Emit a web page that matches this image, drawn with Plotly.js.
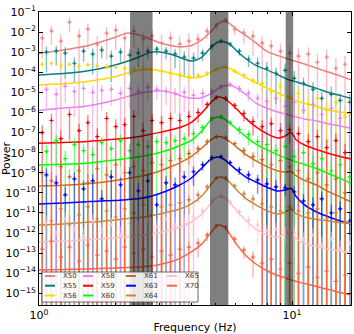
<!DOCTYPE html>
<html>
<head>
<meta charset="utf-8">
<script src="https://cdn.plot.ly/plotly-3.0.1.min.js"></script>
<style>
html, body { margin: 0; padding: 0; background: #fff; }
#chart { width: 354px; height: 334px; }
</style>
</head>
<body>
<div id="chart"></div>
<script>
// frequency bins (Hz) of the data points, two binnings
const freqA = [1.03, 1.12, 1.22, 1.32, 1.44, 1.56, 1.70, 1.85, 2.01, 2.18, 2.37, 2.58, 2.80, 3.05, 3.31, 3.60, 3.91, 4.25, 4.62, 5.02, 5.46, 5.93, 6.45, 7.01, 7.62, 8.28, 9.00, 9.78, 10.6, 11.6, 12.6, 13.7, 14.9, 16.2];
const freqB = [1.07, 1.17, 1.27, 1.38, 1.50, 1.63, 1.77, 1.93, 2.10, 2.28, 2.47, 2.69, 2.92, 3.18, 3.45, 3.75, 4.08, 4.43, 4.82, 5.24, 5.69, 6.19, 6.73, 7.31, 7.95, 8.64, 9.39, 10.2, 11.1, 12.1, 13.1, 14.3, 15.5, 16.9];
// frequencies where the model curves were read
const modelFreq = [1.0, 1.25, 1.5, 1.75, 2.0, 2.25, 2.5, 2.75, 3.0, 3.3, 3.6, 4.0, 4.4, 4.8, 5.1, 5.4, 5.7, 6.1, 6.6, 7.2, 8.0, 8.8, 9.4, 9.9, 10.4, 11.2, 12.5, 14.0, 15.5, 17.1];

// all powers as log10 values; errors as fraction of the power
const x50Pow = [-2.30,-1.95,-2.45,-1.50,-2.20,-1.85,-2.60,-2.05,-1.90,-2.30,-1.95,-2.35,-2.20,-2.55,-2.30,-2.60,-2.45,-2.35,-1.95,-1.65,-1.40,-1.85,-2.05,-2.20,-2.55,-2.70,-2.95,-3.05,-3.20,-3.10,-3.50,-3.25,-3.80,-3.60];
const x50Err = [0.9,0.8,1.2,0.7,1.3,0.9,1.5,0.95,0.9,1.2,0.85,1.4,1.1,1.6,1.2,1.5,1.3,0.9,0.6,0.4,0.3,0.5,0.7,0.9,1.2,1.1,1.4,1.3,1.5,1.2,1.8,1.3,2,1.6];
const x50Model = [-3.06,-2.89,-2.72,-2.49,-2.26,-2.04,-2.15,-2.34,-2.53,-2.67,-2.74,-2.67,-2.39,-1.95,-1.60,-1.45,-1.60,-1.90,-2.19,-2.54,-2.97,-3.17,-3.29,-3.39,-3.46,-3.59,-3.79,-4.00,-4.18,-4.38];

const x55Pow = [-3.00,-2.95,-3.05,-3.55,-2.95,-3.10,-2.90,-3.20,-3.00,-3.15,-3.05,-2.95,-2.85,-2.95,-3.10,-3.25,-3.30,-3.05,-2.70,-2.45,-2.60,-2.95,-3.35,-3.55,-3.80,-4.05,-3.90,-4.30,-4.55,-4.85,-5.30,-5.10,-5.40,-5.50];
const x55Err = [0.9,0.8,0.95,0.9,0.7,0.9,0.6,0.95,0.7,0.9,0.8,0.6,0.5,0.6,0.8,0.9,0.9,0.6,0.3,0.2,0.25,0.4,0.6,0.9,1.1,0.97,1.2,1.3,0.97,1.3,1.1,1.5,1.2,1.6];
const x55Model = [-4.13,-4.06,-3.96,-3.81,-3.64,-3.44,-3.22,-3.01,-2.99,-3.09,-3.26,-3.44,-3.24,-2.74,-2.49,-2.48,-2.62,-2.99,-3.34,-3.66,-3.89,-4.13,-4.30,-4.41,-4.48,-4.61,-4.80,-5.01,-5.15,-5.31];

const x56Pow = [-3.60,-3.55,-3.65,-3.60,-3.70,-3.62,-3.68,-3.72,-3.75,-3.80,-3.85,-3.82,-3.88,-3.95,-4.05,-4.10,-4.20,-4.15,-4.05,-3.85,-3.72,-3.95,-4.15,-4.40,-4.55,-4.95,-4.70,-5.20,-5.05,-5.60,-5.30,-5.90,-5.50,-6.20];
const x56Err = [0.3,0.25,0.3,0.25,0.3,0.25,0.3,0.3,0.25,0.3,0.25,0.3,0.25,0.3,0.35,0.4,0.4,0.3,0.25,0.15,0.15,0.2,0.3,0.4,0.6,0.9,0.8,1.2,0.95,1.4,1.1,1.6,1.2,1.8];
const x56Model = [-4.63,-4.57,-4.48,-4.36,-4.22,-4.03,-3.89,-3.85,-3.92,-4.03,-4.16,-4.27,-4.21,-3.99,-3.81,-3.75,-3.82,-4.03,-4.28,-4.53,-4.80,-5.03,-5.20,-5.30,-5.41,-5.54,-5.70,-5.88,-5.98,-6.07];

const x58Pow = [-4.85,-5.10,-4.70,-4.95,-4.80,-5.00,-4.90,-4.85,-5.05,-4.80,-4.95,-4.75,-4.85,-4.95,-5.05,-5.00,-5.15,-5.05,-4.95,-4.70,-4.60,-4.80,-5.05,-5.30,-5.45,-5.30,-5.70,-5.50,-5.90,-5.60,-6.10,-5.80,-6.30,-6.00];
const x58Err = [0.9,1.1,0.85,0.95,0.9,1.2,0.9,0.85,1.1,0.9,0.95,0.8,0.7,0.8,0.9,0.9,1.1,0.8,0.5,0.3,0.3,0.4,0.6,0.9,1.1,1.2,1.3,1.4,1.3,1.6,1.4,1.8,1.5,2];
const x58Model = [-5.90,-5.78,-5.70,-5.55,-5.38,-5.20,-5.04,-4.96,-4.92,-5.00,-5.15,-5.29,-5.25,-5.05,-4.81,-4.68,-4.65,-4.81,-5.13,-5.53,-5.80,-5.98,-6.07,-6.15,-6.22,-6.32,-6.42,-6.57,-6.67,-6.79];

const x59Pow = [-7.00,-6.40,-7.30,-6.10,-6.90,-6.50,-7.20,-6.30,-6.70,-6.60,-6.20,-6.90,-6.40,-6.50,-6.30,-6.40,-6.20,-6.00,-5.60,-5.25,-5.30,-5.65,-6.05,-6.45,-6.70,-6.55,-6.90,-6.85,-7.05,-7.45,-7.20,-7.75,-7.40,-8.00];
const x59Err = [1.3,1.1,1.5,0.95,1.2,1.4,1.6,1.1,1.3,1.2,1.1,1.5,1.2,1.1,1.0,1.3,0.9,0.7,0.4,0.25,0.25,0.35,0.6,0.8,1.1,1.0,1.3,0.8,1.2,1.4,1.2,1.6,1.3,1.8];
const x59Model = [-7.53,-7.50,-7.46,-7.39,-7.33,-7.27,-7.20,-7.09,-6.99,-6.87,-6.75,-6.49,-6.02,-5.48,-5.23,-5.30,-5.53,-5.88,-6.32,-6.72,-7.07,-7.27,-7.17,-7.00,-7.37,-7.62,-7.84,-8.04,-8.19,-8.31];

const x60Pow = [-7.95,-7.40,-8.30,-7.60,-7.90,-8.10,-7.50,-7.80,-7.40,-7.90,-7.60,-7.70,-7.45,-7.50,-7.40,-7.30,-7.05,-6.75,-6.30,-6.20,-6.50,-6.85,-7.10,-7.45,-7.60,-7.90,-7.70,-8.20,-8.00,-8.55,-8.30,-8.90,-8.60,-9.20];
const x60Err = [1.2,0.95,1.5,1.1,1.3,1.4,1.0,1.2,0.95,1.3,1.1,1.2,1.0,1.1,0.9,0.9,0.7,0.5,0.3,0.2,0.3,0.45,0.7,0.9,1.1,1.2,1.0,1.4,1.2,1.5,1.3,1.7,1.4,2];
const x60Model = [-8.61,-8.58,-8.54,-8.45,-8.36,-8.28,-8.20,-8.11,-7.99,-7.84,-7.64,-7.39,-6.92,-6.35,-6.22,-6.32,-6.55,-6.87,-7.22,-7.57,-7.87,-8.11,-8.26,-8.36,-8.46,-8.59,-8.79,-9.06,-9.28,-9.53];

const x61Pow = [-9.00,-9.40,-8.70,-9.20,-8.90,-9.50,-8.80,-9.10,-8.60,-9.00,-8.70,-8.90,-8.50,-8.60,-8.40,-8.30,-8.05,-7.80,-7.45,-7.20,-7.25,-7.55,-7.90,-8.20,-8.35,-8.60,-8.40,-8.70,-8.90,-9.30,-9.00,-9.60,-9.30,-10.00];
const x61Err = [1.3,1.6,1.1,1.4,1.2,1.8,1.2,1.5,1.0,1.3,1.1,1.2,0.95,1.0,0.9,0.8,0.7,0.5,0.35,0.2,0.2,0.3,0.5,0.7,0.9,1.1,0.9,1.0,1.2,1.5,1.2,1.7,1.4,2];
const x61Model = [-9.66,-9.62,-9.56,-9.48,-9.38,-9.28,-9.18,-9.06,-8.91,-8.71,-8.51,-8.19,-7.77,-7.34,-7.20,-7.27,-7.47,-7.77,-8.11,-8.41,-8.71,-8.91,-8.96,-8.94,-9.16,-9.38,-9.61,-9.95,-10.20,-10.45];

const x63Pow = [-9.10,-9.50,-10.10,-9.30,-9.80,-9.40,-10.30,-9.20,-9.60,-9.00,-9.90,-9.40,-10.60,-9.50,-9.60,-9.20,-8.95,-8.60,-8.25,-8.20,-8.50,-8.85,-9.10,-9.35,-9.55,-9.70,-9.75,-9.95,-10.40,-10.60,-10.30,-11.00,-10.80,-11.40];
const x63Err = [1.1,1.3,1.6,1.2,1.5,1.2,1.8,1.1,1.4,0.95,1.5,1.2,2,1.2,1.3,1.0,0.8,0.5,0.3,0.2,0.3,0.45,0.6,0.8,1.0,1.1,0.6,0.9,1.2,1.4,1.2,1.6,1.4,1.8];
const x63Model = [-10.55,-10.50,-10.45,-10.40,-10.38,-10.33,-10.28,-10.18,-10.03,-9.83,-9.61,-9.26,-8.76,-8.31,-8.21,-8.34,-8.59,-8.91,-9.23,-9.46,-9.73,-9.91,-9.86,-9.77,-10.20,-10.60,-10.95,-11.20,-11.40,-11.55];

const x64Pow = [-11.00,-11.40,-10.80,-11.60,-11.10,-10.70,-11.30,-10.90,-11.20,-10.80,-11.00,-10.60,-11.10,-10.70,-10.60,-10.50,-10.35,-10.10,-9.70,-9.25,-9.25,-9.65,-10.05,-10.30,-10.55,-10.70,-10.90,-10.70,-10.90,-11.00,-10.80,-11.30,-11.00,-11.40];
const x64Err = [1.4,1.7,1.2,2,1.5,1.2,1.6,1.3,1.5,1.2,1.4,1.1,1.5,1.2,1.1,1.0,0.8,0.6,0.4,0.2,0.2,0.3,0.5,0.7,0.9,1.1,1.3,0.9,1.2,1.4,1.2,1.6,1.3,1.8];
const x64Model = [-11.60,-11.55,-11.47,-11.42,-11.35,-11.27,-11.22,-11.15,-11.05,-10.93,-10.80,-10.55,-10.15,-9.56,-9.23,-9.26,-9.51,-9.91,-10.30,-10.60,-10.90,-11.05,-10.95,-10.80,-11.05,-11.20,-11.32,-11.40,-11.47,-11.52];

const x65Pow = [-11.50,-12.00,-11.30,-11.80,-12.20,-11.40,-11.90,-11.60,-12.10,-11.50,-11.80,-11.40,-11.70,-11.30,-11.60,-11.40,-11.20,-10.90,-10.40,-10.15,-10.45,-10.95,-11.35,-11.60,-11.90,-11.80,-11.90,-12.00,-12.30,-12.10,-12.60,-12.30,-12.80,-12.50];
const x65Err = [1.3,1.6,1.2,1.5,1.8,1.2,1.5,1.3,1.7,1.2,1.4,1.1,1.4,1.1,1.3,1.1,0.9,0.6,0.35,0.2,0.3,0.45,0.7,0.9,1.1,1.0,0.8,1.1,1.3,1.2,1.6,1.3,1.8,1.5];
const x65Model = [-12.44,-12.39,-12.34,-12.29,-12.24,-12.19,-12.12,-12.04,-11.97,-11.85,-11.70,-11.45,-11.05,-10.50,-10.20,-10.23,-10.50,-10.95,-11.40,-11.80,-12.09,-12.19,-12.02,-11.95,-12.29,-12.52,-12.67,-12.79,-12.89,-12.99];

const x70Pow = [-12.80,-12.40,-13.20,-12.70,-13.40,-12.60,-13.10,-12.90,-13.30,-12.70,-13.00,-12.80,-13.20,-12.90,-13.10,-12.80,-12.70,-12.50,-12.10,-11.65,-11.70,-12.30,-12.85,-13.20,-13.50,-13.30,-13.80,-13.50,-14.00,-13.70,-14.20,-13.90,-14.40,-14.10];
const x70Err = [1.5,1.2,1.8,1.4,2,1.3,1.7,1.5,1.8,1.3,1.5,1.4,1.7,1.4,1.5,1.2,1.0,0.8,0.5,0.25,0.25,0.4,0.6,0.9,1.1,1.0,1.4,1.1,1.5,1.2,1.7,1.4,1.8,1.5];
const x70Model = [-13.84,-13.81,-13.79,-13.76,-13.74,-13.71,-13.69,-13.64,-13.56,-13.44,-13.26,-12.94,-12.54,-11.95,-11.60,-11.70,-12.09,-12.64,-13.14,-13.54,-13.89,-14.11,-14.23,-14.33,-14.41,-14.51,-14.66,-14.81,-14.96,-15.08];

// excluded frequency ranges (Hz)
const bands = [[2.29, 2.81], [4.74, 5.60], [9.44, 10.1]];

const yExponents = [-1, -2, -3, -4, -5, -6, -7, -8, -9, -10, -11, -12, -13, -14, -15];
const xExponents = [0, 1];
const xRange = [0, Math.log10(17.1)];

const series = [
  { name: 'X50', color: '#F08080', f: freqA, p: x50Pow, e: x50Err, m: x50Model },
  { name: 'X55', color: '#008080', f: freqB, p: x55Pow, e: x55Err, m: x55Model },
  { name: 'X56', color: '#FFD700', f: freqA, p: x56Pow, e: x56Err, m: x56Model },
  { name: 'X58', color: '#EE82EE', f: freqB, p: x58Pow, e: x58Err, m: x58Model },
  { name: 'X59', color: '#FF0000', f: freqA, p: x59Pow, e: x59Err, m: x59Model },
  { name: 'X60', color: '#00FF00', f: freqB, p: x60Pow, e: x60Err, m: x60Model },
  { name: 'X61', color: '#D2691E', f: freqA, p: x61Pow, e: x61Err, m: x61Model },
  { name: 'X63', color: '#0000FF', f: freqB, p: x63Pow, e: x63Err, m: x63Model },
  { name: 'X64', color: '#CD853F', f: freqA, p: x64Pow, e: x64Err, m: x64Model },
  { name: 'X65', color: '#FFC0CB', f: freqB, p: x65Pow, e: x65Err, m: x65Model },
  { name: 'X70', color: '#FF6347', f: freqA, p: x70Pow, e: x70Err, m: x70Model }
];

function rgba(hex, a) {
  const n = parseInt(hex.slice(1), 16);
  return 'rgba(' + (n >> 16) + ',' + ((n >> 8) & 255) + ',' + (n & 255) + ',' + a + ')';
}
const pow10 = v => Math.pow(10, v);

const traces = [];
series.forEach(s => {
  const y = s.p.map(pow10);
  traces.push({
    type: 'scatter', mode: 'markers', x: s.f, y: y,
    marker: { symbol: 'cross-thin-open', size: 3, color: s.color, line: { width: 1.2, color: s.color } },
    error_y: { type: 'data', symmetric: true, array: y.map((v, i) => v * s.e[i]),
               color: rgba(s.color, 0.5), thickness: 1.4, width: 0 },
    showlegend: false, hoverinfo: 'skip'
  });
  traces.push({
    type: 'scatter', mode: 'lines', x: modelFreq, y: s.m.map(pow10),
    line: { color: s.color, width: 1.5, shape: 'spline', smoothing: 0.8 },
    showlegend: false, hoverinfo: 'skip'
  });
});

// plot area in pixels: x 39..351, y 12..305
const px = p => (p - 39) / 312;
const py = p => (305 - p) / 293;
const fx = f => (Math.log10(f) - xRange[0]) / (xRange[1] - xRange[0]);

const shapes = bands.map(b => ({
  type: 'rect', xref: 'paper', yref: 'paper', x0: fx(b[0]), x1: fx(b[1]), y0: 0, y1: 1,
  fillcolor: 'rgba(0,0,0,0.5)', line: { width: 0 }, layer: 'above'
}));

// legend, column by column
shapes.push({ type: 'rect', xref: 'paper', yref: 'paper', x0: px(42), x1: px(198), y0: py(302), y1: py(272),
  fillcolor: 'rgba(255,255,255,0.85)', line: { color: '#444', width: 0.8 }, layer: 'above' });
const colX = [45, 83, 126, 167];
const rowY = [276, 285.7, 295.5];
const annotations = [];
series.forEach((s, i) => {
  const cx = colX[Math.floor(i / 3)], ry = rowY[i % 3];
  shapes.push({ type: 'line', xref: 'paper', yref: 'paper', x0: px(cx), x1: px(cx + 10), y0: py(ry), y1: py(ry),
    line: { color: s.color, width: 2 }, layer: 'above' });
  annotations.push({ xref: 'paper', yref: 'paper', x: px(cx + 16), y: py(ry), xanchor: 'left', yanchor: 'middle',
    text: s.name, showarrow: false, font: { size: 7, color: '#333' } });
});

const layout = {
  width: 354, height: 334,
  margin: { l: 39, r: 3, t: 12, b: 29 },
  paper_bgcolor: '#fff', plot_bgcolor: '#fff',
  font: { family: 'DejaVu Sans', size: 11, color: '#000' },
  showlegend: false,
  xaxis: {
    type: 'log', range: xRange,
    tickmode: 'array', tickvals: xExponents.map(pow10),
    ticktext: xExponents.map(e => '10<sup>' + e + '</sup>'),
    ticks: 'inside', ticklen: 4, tickcolor: '#000',
    minor: { tickmode: 'array', tickvals: [2, 3, 4, 5, 6, 7, 8, 9], ticks: 'inside', ticklen: 2, tickcolor: '#000', showgrid: false },
    showline: true, linecolor: '#000', linewidth: 1, mirror: 'ticks',
    showgrid: false, zeroline: false,
    tickfont: { size: 11 },
    title: { text: 'Frequency (Hz)', font: { size: 11 }, standoff: 3 }
  },
  yaxis: {
    type: 'log', range: [-15.58, -1],
    tickmode: 'array', tickvals: yExponents.map(pow10),
    ticktext: yExponents.map(e => '10<sup>\u2212' + Math.abs(e) + '</sup>'),
    ticks: 'inside', ticklen: 4, tickcolor: '#000',
    showline: true, linecolor: '#000', linewidth: 1, mirror: 'ticks',
    showgrid: false, zeroline: false,
    tickfont: { size: 11 },
    title: { text: 'Power', font: { size: 11 }, standoff: 2 }
  },
  shapes: shapes,
  annotations: annotations
};

Plotly.newPlot('chart', traces, layout, { staticPlot: true, displayModeBar: false });
</script>
</body>
</html>
